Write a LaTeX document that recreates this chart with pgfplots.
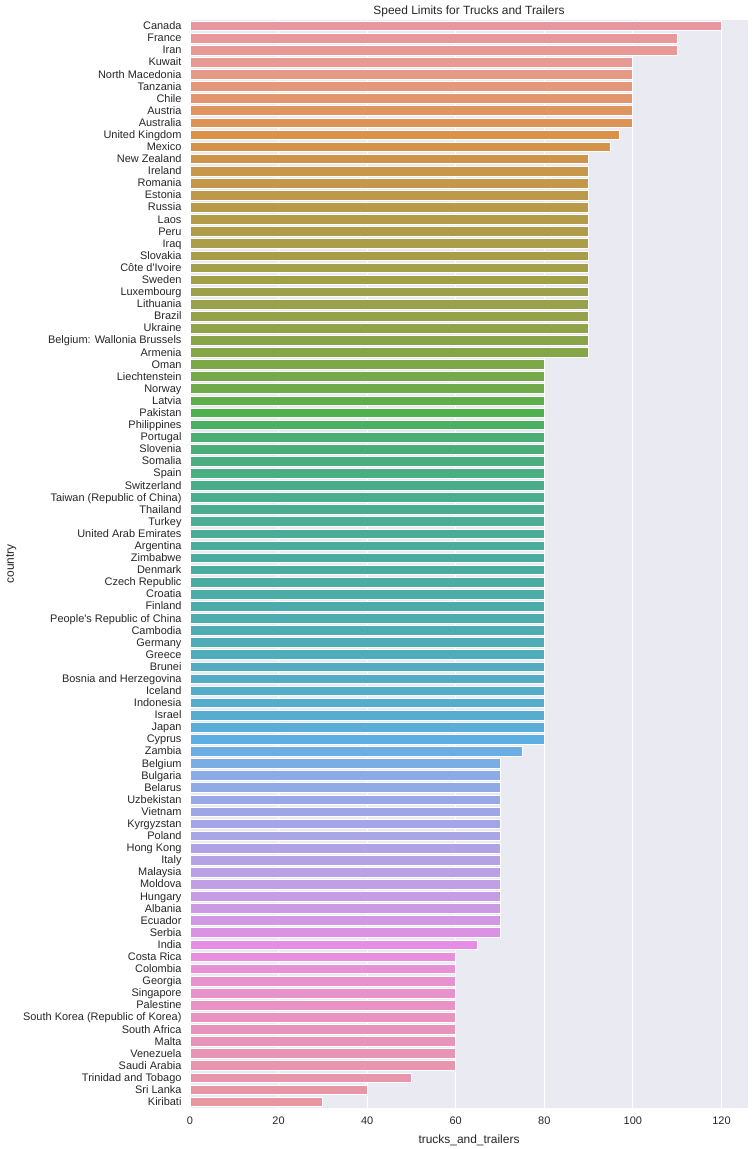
\documentclass[border=0pt]{standalone}
\usepackage{pgfplots}
\pgfplotsset{compat=1.18}
\usepackage{fontspec}
\setmainfont{Liberation Sans}

\definecolor{bg}{HTML}{EAEAF2}
\definecolor{txt}{HTML}{262626}
% palette anchors (index in the sorted list)
\definecolor{k0}{HTML}{E8969F}
\definecolor{k3}{HTML}{E79A91}
\definecolor{k6}{HTML}{E3966E}
\definecolor{k9}{HTML}{D99248}
\definecolor{k12}{HTML}{C8974A}
\definecolor{k16}{HTML}{B49B48}
\definecolor{k20}{HTML}{A49F49}
\definecolor{k24}{HTML}{96A24A}
\definecolor{k28}{HTML}{7DA848}
\definecolor{k30}{HTML}{6FAB49}
\definecolor{k32}{HTML}{4EB14E}
\definecolor{k34}{HTML}{4BAF74}
\definecolor{k38}{HTML}{4AAD8A}
\definecolor{k45}{HTML}{4AACA1}
\definecolor{k52}{HTML}{4FACBA}
\definecolor{k57}{HTML}{57ADD1}
\definecolor{k59}{HTML}{5DAEE2}
\definecolor{k62}{HTML}{8AABE5}
\definecolor{k66}{HTML}{A3A6E6}
\definecolor{k71}{HTML}{C09FE5}
\definecolor{k74}{HTML}{D298E3}
\definecolor{k76}{HTML}{E68DE6}
\definecolor{k78}{HTML}{E891D4}
\definecolor{k82}{HTML}{E893C1}
\definecolor{k86}{HTML}{E895B0}
\definecolor{k89}{HTML}{E897A0}

\begin{document}
\begin{tikzpicture}
\begin{axis}[
  name=ax,
  scale only axis, width=558bp, height=1088bp,
  xmin=0, xmax=126, ymin=-0.5, ymax=89.5, y dir=reverse,
  axis background/.style={fill=bg},
  axis line style={draw=none},
  major tick length=0pt,
  xtick={0,20,...,120},
  ytick={0,...,89},
  yticklabels={Canada,France,Iran,Kuwait,North Macedonia,Tanzania,Chile,Austria,Australia,United Kingdom,Mexico,New Zealand,Ireland,Romania,Estonia,Russia,Laos,Peru,Iraq,Slovakia,Côte d\textquotesingle Ivoire,Sweden,Luxembourg,Lithuania,Brazil,Ukraine,Belgium: Wallonia Brussels,Armenia,Oman,Liechtenstein,Norway,Latvia,Pakistan,Philippines,Portugal,Slovenia,Somalia,Spain,Switzerland,Taiwan (Republic of China),Thailand,Turkey,United Arab Emirates,Argentina,Zimbabwe,Denmark,Czech Republic,Croatia,Finland,People\textquotesingle s Republic of China,Cambodia,Germany,Greece,Brunei,Bosnia and Herzegovina,Iceland,Indonesia,Israel,Japan,Cyprus,Zambia,Belgium,Bulgaria,Belarus,Uzbekistan,Vietnam,Kyrgyzstan,Poland,Hong Kong,Italy,Malaysia,Moldova,Hungary,Albania,Ecuador,Serbia,India,Costa Rica,Colombia,Georgia,Singapore,Palestine,South Korea (Republic of Korea),South Africa,Malta,Venezuela,Saudi Arabia,Trinidad and Tobago,Sri Lanka,Kiribati},
  xmajorgrids, grid style={white, line width=1bp},
  tick label style={font=\fontsize{11}{13}\selectfont, text=txt},
  xticklabel style={yshift=-5bp},
  yticklabel style={xshift=-5bp, text height=8bp, text depth=2.4bp, yshift=-0.8bp},
  /pgf/number format/assume math mode=true,
  title={Speed Limits for Trucks and Trailers},
  title style={font=\fontsize{12}{14}\selectfont, text=txt, yshift=-6bp},
  xlabel={trucks\_and\_trailers}, ylabel={country},
  xlabel style={yshift=-4bp},
  label style={font=\fontsize{12}{14}\selectfont, text=txt},
  every axis plot/.style={xbar, bar width=0.8, draw=white, line width=0.8bp},
]
\addplot[fill=k0] coordinates {(120,0)};
\addplot[fill=k0!67!k3] coordinates {(110,1)};
\addplot[fill=k0!33!k3] coordinates {(110,2)};
\addplot[fill=k3] coordinates {(100,3)};
\addplot[fill=k3!67!k6] coordinates {(100,4)};
\addplot[fill=k3!33!k6] coordinates {(100,5)};
\addplot[fill=k6] coordinates {(100,6)};
\addplot[fill=k6!67!k9] coordinates {(100,7)};
\addplot[fill=k6!33!k9] coordinates {(100,8)};
\addplot[fill=k9] coordinates {(97,9)};
\addplot[fill=k9!67!k12] coordinates {(95,10)};
\addplot[fill=k9!33!k12] coordinates {(90,11)};
\addplot[fill=k12] coordinates {(90,12)};
\addplot[fill=k12!75!k16] coordinates {(90,13)};
\addplot[fill=k12!50!k16] coordinates {(90,14)};
\addplot[fill=k12!25!k16] coordinates {(90,15)};
\addplot[fill=k16] coordinates {(90,16)};
\addplot[fill=k16!75!k20] coordinates {(90,17)};
\addplot[fill=k16!50!k20] coordinates {(90,18)};
\addplot[fill=k16!25!k20] coordinates {(90,19)};
\addplot[fill=k20] coordinates {(90,20)};
\addplot[fill=k20!75!k24] coordinates {(90,21)};
\addplot[fill=k20!50!k24] coordinates {(90,22)};
\addplot[fill=k20!25!k24] coordinates {(90,23)};
\addplot[fill=k24] coordinates {(90,24)};
\addplot[fill=k24!75!k28] coordinates {(90,25)};
\addplot[fill=k24!50!k28] coordinates {(90,26)};
\addplot[fill=k24!25!k28] coordinates {(90,27)};
\addplot[fill=k28] coordinates {(80,28)};
\addplot[fill=k28!50!k30] coordinates {(80,29)};
\addplot[fill=k30] coordinates {(80,30)};
\addplot[fill=k30!50!k32] coordinates {(80,31)};
\addplot[fill=k32] coordinates {(80,32)};
\addplot[fill=k32!50!k34] coordinates {(80,33)};
\addplot[fill=k34] coordinates {(80,34)};
\addplot[fill=k34!75!k38] coordinates {(80,35)};
\addplot[fill=k34!50!k38] coordinates {(80,36)};
\addplot[fill=k34!25!k38] coordinates {(80,37)};
\addplot[fill=k38] coordinates {(80,38)};
\addplot[fill=k38!86!k45] coordinates {(80,39)};
\addplot[fill=k38!71!k45] coordinates {(80,40)};
\addplot[fill=k38!57!k45] coordinates {(80,41)};
\addplot[fill=k38!43!k45] coordinates {(80,42)};
\addplot[fill=k38!29!k45] coordinates {(80,43)};
\addplot[fill=k38!14!k45] coordinates {(80,44)};
\addplot[fill=k45] coordinates {(80,45)};
\addplot[fill=k45!86!k52] coordinates {(80,46)};
\addplot[fill=k45!71!k52] coordinates {(80,47)};
\addplot[fill=k45!57!k52] coordinates {(80,48)};
\addplot[fill=k45!43!k52] coordinates {(80,49)};
\addplot[fill=k45!29!k52] coordinates {(80,50)};
\addplot[fill=k45!14!k52] coordinates {(80,51)};
\addplot[fill=k52] coordinates {(80,52)};
\addplot[fill=k52!80!k57] coordinates {(80,53)};
\addplot[fill=k52!60!k57] coordinates {(80,54)};
\addplot[fill=k52!40!k57] coordinates {(80,55)};
\addplot[fill=k52!20!k57] coordinates {(80,56)};
\addplot[fill=k57] coordinates {(80,57)};
\addplot[fill=k57!50!k59] coordinates {(80,58)};
\addplot[fill=k59] coordinates {(80,59)};
\addplot[fill=k59!67!k62] coordinates {(75,60)};
\addplot[fill=k59!33!k62] coordinates {(70,61)};
\addplot[fill=k62] coordinates {(70,62)};
\addplot[fill=k62!75!k66] coordinates {(70,63)};
\addplot[fill=k62!50!k66] coordinates {(70,64)};
\addplot[fill=k62!25!k66] coordinates {(70,65)};
\addplot[fill=k66] coordinates {(70,66)};
\addplot[fill=k66!80!k71] coordinates {(70,67)};
\addplot[fill=k66!60!k71] coordinates {(70,68)};
\addplot[fill=k66!40!k71] coordinates {(70,69)};
\addplot[fill=k66!20!k71] coordinates {(70,70)};
\addplot[fill=k71] coordinates {(70,71)};
\addplot[fill=k71!67!k74] coordinates {(70,72)};
\addplot[fill=k71!33!k74] coordinates {(70,73)};
\addplot[fill=k74] coordinates {(70,74)};
\addplot[fill=k74!50!k76] coordinates {(70,75)};
\addplot[fill=k76] coordinates {(65,76)};
\addplot[fill=k76!50!k78] coordinates {(60,77)};
\addplot[fill=k78] coordinates {(60,78)};
\addplot[fill=k78!75!k82] coordinates {(60,79)};
\addplot[fill=k78!50!k82] coordinates {(60,80)};
\addplot[fill=k78!25!k82] coordinates {(60,81)};
\addplot[fill=k82] coordinates {(60,82)};
\addplot[fill=k82!75!k86] coordinates {(60,83)};
\addplot[fill=k82!50!k86] coordinates {(60,84)};
\addplot[fill=k82!25!k86] coordinates {(60,85)};
\addplot[fill=k86] coordinates {(60,86)};
\addplot[fill=k86!67!k89] coordinates {(50,87)};
\addplot[fill=k86!33!k89] coordinates {(40,88)};
\addplot[fill=k89] coordinates {(30,89)};
\end{axis}
\pgfresetboundingbox
\path ([shift={(-190bp,-41bp)}]ax.south west) rectangle ([shift={(7bp,20bp)}]ax.north east);
\end{tikzpicture}
\end{document}
